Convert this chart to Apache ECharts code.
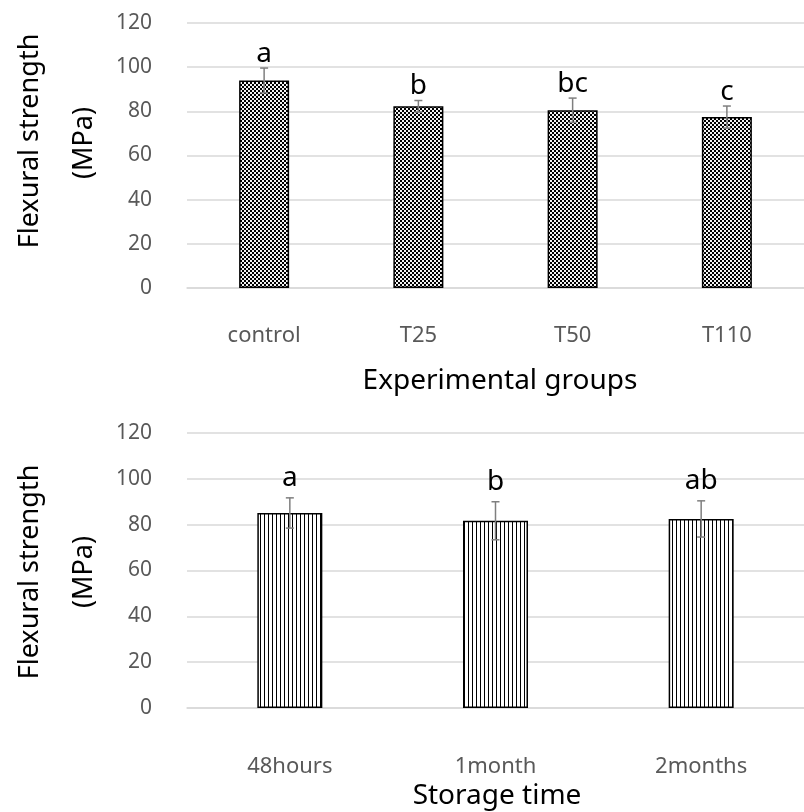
<!DOCTYPE html>
<html>
<head>
<meta charset="utf-8">
<script src="https://cdn.jsdelivr.net/npm/echarts@6/dist/echarts.min.js"></script>
<style>
html,body{margin:0;padding:0;background:#fff;}
#chart{width:804px;height:812px;}
</style>
</head>
<body>
<div id="chart"></div>
<script>
// ---- data ----
const groups1 = ['control', 'T25', 'T50', 'T110'];
const mean1 = [94.0, 82.3, 80.5, 77.4];
const sd1 = [5.6, 2.6, 5.5, 5.0];
const letters1 = ['a', 'b', 'bc', 'c'];

const groups2 = ['48hours', '1month', '2months'];
const mean2 = [85.1, 81.7, 82.5];
const sd2 = [6.6, 8.3, 7.9];
const letters2 = ['a', 'b', 'ab'];

const yMin = 0, yMax = 120, yStep = 20;

// ---- patterns ----
function checkerPattern() {
  const c = document.createElement('canvas');
  c.width = 4; c.height = 4;
  const g = c.getContext('2d');
  g.fillStyle = '#f4f4f4'; g.fillRect(0, 0, 4, 4);
  g.fillStyle = '#000000';
  g.fillRect(0, 0, 2, 2); g.fillRect(2, 2, 2, 2);
  return { image: c, repeat: 'repeat' };
}
function stripePattern() {
  const c = document.createElement('canvas');
  c.width = 4; c.height = 4;
  const g = c.getContext('2d');
  g.fillStyle = '#ffffff'; g.fillRect(0, 0, 4, 4);
  g.fillStyle = '#000000';
  g.fillRect(0, 0, 1, 4);
  return { image: c, repeat: 'repeat' };
}

const FONT = '"Noto Sans", "Open Sans", sans-serif';
const tickColor = '#595959';
const gridColor = '#d9d9d9';

function errRender(letters, gap) {
  return function (params, api) {
    const x = api.value(0), lo = api.value(1), hi = api.value(2);
    const pHi = api.coord([x, hi]);
    const pLo = api.coord([x, lo]);
    const hw = 4;
    const st = { stroke: '#7f7f7f', lineWidth: 1.5 };
    return {
      type: 'group',
      children: [
        { type: 'line', shape: { x1: pHi[0], y1: pHi[1], x2: pLo[0], y2: pLo[1] }, style: st },
        { type: 'line', shape: { x1: pHi[0] - hw, y1: pHi[1], x2: pHi[0] + hw, y2: pHi[1] }, style: st },
        { type: 'line', shape: { x1: pLo[0] - hw, y1: pLo[1], x2: pLo[0] + hw, y2: pLo[1] }, style: st },
        { type: 'text', x: pHi[0], y: pHi[1] - gap,
          style: { text: letters[params.dataIndex], fill: '#000', font: '28px ' + FONT,
                   textAlign: 'center', textVerticalAlign: 'bottom' } }
      ]
    };
  };
}

function yAxisCfg(gi) {
  return {
    type: 'value', gridIndex: gi, min: yMin, max: yMax, interval: yStep,
    axisLine: { show: false }, axisTick: { show: false },
    axisLabel: { color: tickColor, fontSize: 21, fontFamily: FONT, margin: 35 },
    splitLine: { lineStyle: { color: gridColor, width: 1.5 } }
  };
}
function xAxisCfg(gi, cats, margin) {
  return {
    type: 'category', gridIndex: gi, data: cats,
    axisLine: { lineStyle: { color: gridColor, width: 1.5 } },
    axisTick: { show: false },
    axisLabel: { color: tickColor, fontSize: 22, fontFamily: FONT, margin: margin }
  };
}

const chart = echarts.init(document.getElementById('chart'), null, { renderer: 'canvas' });
chart.setOption({
  animation: false,
  backgroundColor: '#ffffff',
  grid: [
    { left: 187, top: 23, width: 626, height: 265 },
    { left: 187, top: 433, width: 620, height: 275 }
  ],
  xAxis: [xAxisCfg(0, groups1, 37), xAxisCfg(1, groups2, 48)],
  yAxis: [yAxisCfg(0), yAxisCfg(1)],
  graphic: [
    { type: 'text', x: 30, y: 141, rotation: Math.PI / 2,
      style: { text: 'Flexural strength', font: '27px ' + FONT, fill: '#000', textAlign: 'center', textVerticalAlign: 'middle' } },
    { type: 'text', x: 84, y: 143, rotation: Math.PI / 2,
      style: { text: '(MPa)', font: '27px ' + FONT, fill: '#000', textAlign: 'center', textVerticalAlign: 'middle' } },
    { type: 'text', x: 30, y: 572, rotation: Math.PI / 2,
      style: { text: 'Flexural strength', font: '27px ' + FONT, fill: '#000', textAlign: 'center', textVerticalAlign: 'middle' } },
    { type: 'text', x: 84, y: 572, rotation: Math.PI / 2,
      style: { text: '(MPa)', font: '27px ' + FONT, fill: '#000', textAlign: 'center', textVerticalAlign: 'middle' } },
    { type: 'text', x: 500, y: 381,
      style: { text: 'Experimental groups', font: '28px ' + FONT, fill: '#000', textAlign: 'center', textVerticalAlign: 'middle' } },
    { type: 'text', x: 497, y: 796,
      style: { text: 'Storage time', font: '28px ' + FONT, fill: '#000', textAlign: 'center', textVerticalAlign: 'middle' } }
  ],
  series: [
    { type: 'bar', xAxisIndex: 0, yAxisIndex: 0, data: mean1, barWidth: 50,
      itemStyle: { color: checkerPattern(), borderColor: '#000', borderWidth: 1.5 } },
    { type: 'custom', xAxisIndex: 0, yAxisIndex: 0, z: 5,
      data: groups1.map((g, i) => [i, mean1[i] - sd1[i], mean1[i] + sd1[i]]),
      renderItem: errRender(letters1, 0) },
    { type: 'bar', xAxisIndex: 1, yAxisIndex: 1, data: mean2, barWidth: 65,
      itemStyle: { color: stripePattern(), borderColor: '#000', borderWidth: 1.5 } },
    { type: 'custom', xAxisIndex: 1, yAxisIndex: 1, z: 5,
      data: groups2.map((g, i) => [i, mean2[i] - sd2[i], mean2[i] + sd2[i]]),
      renderItem: errRender(letters2, 6) }
  ]
});
</script>
</body>
</html>
